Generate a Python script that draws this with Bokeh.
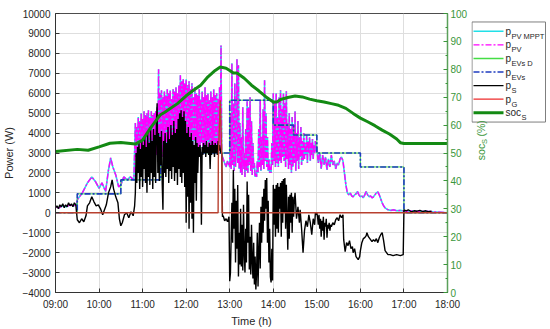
import math
from bokeh.plotting import figure
from bokeh.layouts import row
from bokeh.models import Range1d, LinearAxis, FixedTicker
from bokeh.core.properties import value
from bokeh.embed import file_html
from bokeh.resources import INLINE

FONT = "Liberation Sans"

# ---------------- axis ticks ----------------
x_tick_hours = [9, 10, 11, 12, 13, 14, 15, 16, 17, 18]
x_tick_labels = ["09:00", "10:00", "11:00", "12:00", "13:00", "14:00",
                 "15:00", "16:00", "17:00", "18:00"]
power_ticks = [-4000, -3000, -2000, -1000, 0, 1000, 2000, 3000, 4000,
               5000, 6000, 7000, 8000, 9000, 10000]
soc_ticks = [0, 10, 20, 30, 40, 50, 60, 70, 80, 90, 100]
soc_minor = [5, 15, 25, 35, 45, 55, 65, 75, 85, 95]

# ---------------- data (time in minutes after 09:00) ----------------
# p_S (battery power, W)
ps_min = [0, 2, 4, 6, 8, 10, 12, 14, 16, 18, 20, 22, 24, 26, 28, 30, 33, 36, 39, 42,
          44, 47, 50, 53, 56, 59, 62, 65, 67, 70, 73, 76, 78, 80, 83, 86, 88, 90, 92, 95,
          98, 101, 104, 107, 109,
          110, 111, 112, 113, 114, 115, 116, 117, 118, 119, 120, 121, 122, 123, 124, 125,
          126, 127, 128, 129, 130, 131, 132, 133, 134, 135, 136, 137, 138, 139, 140, 141,
          142, 143, 144, 145, 146, 147, 148, 149, 150, 151, 152, 153, 154, 155, 156, 157,
          158, 159, 160, 161, 162, 163, 164, 165, 166, 167, 168, 169, 170, 171, 172, 173,
          174, 175, 176, 177, 178, 179, 180, 181, 182, 183, 184, 185, 186, 187, 188, 189,
          190, 191, 192, 193, 194, 195, 196, 197, 198, 199, 200, 201, 202, 203, 204, 205,
          206, 207, 208, 209, 210, 211, 212, 213, 214, 215, 216, 217, 218, 219, 220, 221,
          222, 223, 224, 225, 226, 227, 228, 229, 230, 231, 233, 235, 237, 239,
          240, 241, 242, 243, 244, 245, 246, 247, 248, 249, 250, 251, 252, 253, 254, 255,
          256, 257, 258, 259, 260, 261, 262, 263, 264, 265, 266, 267, 268, 269, 270, 271,
          272, 273, 274, 275, 276, 277, 278, 279, 280, 281, 282, 283, 284, 285, 286, 287,
          288, 289, 290, 291, 292, 293, 294, 295, 296, 297, 298, 299, 300, 301, 302, 303,
          304, 305, 306, 307, 308, 309, 310, 311, 312, 313, 314, 315, 316, 317, 318, 319,
          320, 321, 322, 323, 324, 325, 326, 327, 328, 329, 330, 332, 334, 336, 337, 339,
          341, 343, 345, 347, 349, 351, 353, 355, 357, 358, 359, 360,
          361, 362, 363, 364, 365, 366, 367, 368, 369, 370, 371, 372, 373, 374, 375, 376,
          377, 378, 379, 380, 382, 384, 386, 388, 390, 392, 394, 396, 397, 399, 401, 403,
          405, 407, 409, 410, 412, 414, 416, 417, 419, 420, 422, 424, 426, 428, 429, 431,
          433, 436, 438, 440, 442, 444, 446, 448, 450, 452, 454, 456, 458, 461, 465, 470,
          475, 479, 480, 483, 486, 490, 494, 498, 502, 506, 510, 514, 518]
ps_w = [250, 350, 200, 400, 300, 450, 250, 400, 300, 500, 350, 450, 300, 500, 400, -350, -500, -300, -450, -150,
        350, 500, 800, 550, 350, 400, 200, -100, 100, 400, 1000, 1300, 1650, 1200, 800, 500, -300, -650, -500, -100,
        0, -250, 50, -150, 350,
        1000, 3000, 1500, 3300, 2000, 3500, 1200, 3200, 1800, 3600, 1300, 3400, 2200, 3800, 1500, 3300,
        1000, 4000, 1800, 3500, 1400, 4300, 2000, 3600, 1200, 4200, 1800, 3900, 1500, 4500, 5500, 2000,
        4000, 1600, 3800, 2400, 4100, 1500, 150, 3600, 2000, 4000, 1800, 3500, 2200, 4300, 1500, 3700,
        2100, 4400, 1700, 3900, 2300, 4600, 1600, 4000, 2000, 4200, 1400, 4700, 2200, 5000, 1800, 5150,
        1500, 4800, 2000, 5100, 1300, 4600, -500, 4000, 800, 4300, -800, 3800, 500, 4000, -300, 3600,
        -1000, 3400, 1500, 3800, 600, 3500, 2000, 3300, 2800, 3400, 2900, -600, 3300, 2900, 3500, 3000,
        3400, 2800, 3600, 3000, 3300, 2900, 3500, 2200, 3400, 2900, 3600, 3000, 3400, 2800, 3500, 3000,
        3400, 2900, 3600, 3100, 3400, 3200, 3000, 3000, -200, -150, -400, -300, -450, -200,
        -3430, -3000, -1200, 500, -1500, 2150, -800, 1200, -2500, 600, -1800, 1400, -3200, -1000, -2600, 200,
        -2700, -600, -2900, 400, -2000, -3000, -800, -2500, 1570, -1500, 900, -2850, -1200, -3100, -600, -2400,
        -3300, -1500, -3600, -2200, -3850, -3000, -1000, -3700, -2000, -500, -2800, 300, -1500, 800, -1000, 1200,
        -400, 1650, 200, 1750, -1500, 600, -2500, -800, -3200, -3500, -1800, -3400, 1400, -600, 1200, -1200,
        1400, -800, 1500, -1000, 1300, 200, 1500, -1200, 1600, -500, 1700, 0, 1750, -800, 1400, -300,
        -1850, 800, -1300, 900, -500, 1000, -1000, 800, -200, 600, 1000, -300, 300, -500, 150, -800,
        -2000, -900, -400, -700, -100, -500, -1100, -300, -600, 0, -100, 0,
        -200, -600, -100, -800, -300, -1200, -400, -900, -200, -1350, -500, -700, -300, -1250, -600, -800,
        -500, -900, -600, -700, -500, -600, -350, -250, -400, -100, -250, -100, -1350, -1950, -1500, -1650,
        -1400, -1800, -1700, -2000, -1800, -2200, -2300, -2350, -2200, -1900, -1500, -1300, -1250, -1150, -1000, -1200,
        -1300, -1450, -1350, -1430, -1300, -1500, -1250, -1100, -1000, -1400, -1900, -2000, -2100, -2100, -2150, -2100,
        -2150, -2100, 150, 100, 150, 50, 100, 80, 120, 60, 100, 50, 80]

# p_PV (PV power, W)
pv_min = [0, 5, 10, 15, 20, 25, 29, 30, 37, 44, 50, 55, 60, 64, 69, 73, 76, 79, 83, 87,
          90, 94, 99, 103, 108,
          110, 111, 112, 113, 114, 115, 116, 117, 118, 119, 120, 121, 122, 123, 124, 125,
          126, 127, 128, 129, 130, 131, 132, 133, 134, 135, 136, 137, 138, 139, 140, 141,
          142, 143, 144, 145, 146, 147, 148, 149, 150, 151, 152, 153, 154, 155, 156, 157,
          158, 159, 160, 161, 162, 163, 164, 165, 166, 167, 168, 169, 170, 171, 172, 173,
          174, 175, 176, 177, 178, 179, 180, 181, 182, 183, 184, 185, 186, 187, 188, 189,
          190, 191, 192, 193, 194, 195, 196, 197, 198, 199, 200, 201, 202, 203, 204, 205,
          206, 207, 208, 209, 210, 211, 212, 213, 214, 215, 216, 217, 218, 219, 220, 221,
          222, 223, 224, 225, 226, 227, 228, 229, 230, 231, 233, 235, 237, 239,
          240, 241, 242, 243, 244, 245, 246, 247, 248, 249, 250, 251, 252, 253, 254, 255,
          256, 257, 258, 259, 260, 261, 262, 263, 264, 265, 266, 267, 268, 269, 270, 271,
          272, 273, 274, 275, 276, 277, 278, 279, 280, 281, 282, 283, 284, 285, 286, 287,
          288, 289, 290, 291, 292, 293, 294, 295, 296, 297, 298, 299, 300, 301, 302, 303,
          304, 305, 306, 307, 308, 309, 310, 311, 312, 313, 314, 315, 316, 317, 318, 319,
          320, 321, 322, 323, 324, 325, 326, 327, 328, 329, 330, 331, 332, 333, 334, 335,
          336, 337, 338, 339, 340, 341, 342, 343, 344, 345, 346, 347, 348, 349, 350, 351,
          352, 353, 354, 355, 356, 357, 358, 359, 360, 362, 364, 366, 368, 370, 372, 374,
          376, 378, 380, 382, 384, 386, 388, 390, 392, 394, 396, 398, 400, 402, 404, 406,
          408, 410, 412, 414, 416, 418, 420, 422, 424, 426, 428, 430, 432, 434, 436, 438,
          440, 442, 444, 446, 448, 450, 452, 454, 456, 458, 462, 466, 470, 475, 479, 485,
          490, 500, 510, 520, 530, 540]
pv_w = [300, 250, 350, 300, 400, 350, 400, 650, 1000, 1500, 1800, 1570, 1230, 1500, 1070, 2150, 2750, 2300, 1900, 1300,
        1400, 1800, 1650, 1800, 1650,
        4500, 2800, 4300, 3200, 4800, 2600, 4600, 3000, 5000, 2700, 4700, 3300, 5100, 2500, 4900, 3100,
        5000, 2800, 5150, 3400, 4800, 2700, 5100, 3000, 4900, 2600, 5000, 3300, 5100, 2900, 5300, 3500,
        7200, 3000, 6000, 3300, 6150, 2800, 5800, 3500, 6100, 3000, 5900, 3200, 6200, 2900, 6000, 3400,
        6150, 3100, 5700, 3600, 6200, 3000, 6100, 3400, 6300, 2900, 6000, 3500, 6400, 3200, 6900, 3400,
        6600, 3100, 6700, 3600, 6500, 3000, 6700, 3300, 6400, 3800, 6600, 3200, 6200, 3500, 6500, 3000,
        5800, 3600, 6300, 3100, 6000, 3400, 5900, 3300, 6200, 3000, 5700, 3500, 6100, 3200, 5800, 3300,
        6300, 3100, 5900, 3600, 6000, 3000, 5650, 3300, 6100, 3200, 5800, 3400, 6200, 3100, 5900, 3300,
        6000, 3200, 5700, 3500, 6300, 3000, 8400, 3000, 2800, 2700, 2500, 2300, 2600, 2400,
        2300, 5000, 2200, 7500, 2400, 5500, 2100, 6500, 2300, 3500, 7700, 2500, 7400, 2200, 4500, 2000,
        3800, 1900, 5300, 2200, 3000, 1800, 4200, 2100, 5600, 2000, 5300, 2400, 5800, 2100, 4600, 1900,
        3500, 2200, 2500, 1800, 2000, 1800, 2600, 2000, 4200, 2300, 5650, 2100, 3800, 2400, 5200, 2200,
        6650, 2600, 5000, 2300, 3800, 2100, 2700, 2000, 2300, 2000, 3500, 2400, 6000, 2600, 5500, 2300,
        6000, 2500, 4800, 2300, 5800, 2600, 6150, 2500, 5200, 2800, 6000, 2600, 5500, 2300, 6100, 2700,
        4500, 2200, 5000, 2400, 4200, 2000, 4800, 2300, 4400, 2500, 5100, 2100, 4000, 2600, 4600, 2200,
        3800, 2800, 4300, 2400, 3600, 2600, 4000, 2700, 3500, 2900, 3900, 2500, 3600, 3000, 3800, 2600,
        3500, 2900, 3700, 2700, 3400, 3000, 3600, 3100, 3300, 2500, 3000, 2200, 2900, 2400, 2800, 2150,
        2700, 2300, 2900, 2400, 2600, 2200, 2500, 2400, 2700, 2800, 2600, 2000, 1400, 1000, 900, 1000,
        850, 800, 900, 950, 1070, 900, 800, 850, 750, 900, 1070, 900, 800, 850, 750, 800,
        900, 1000, 1050, 900, 700, 500, 350, 250, 200, 150, 120, 150, 100, 120, 100, 80,
        100, 60, 80, 50, 30, 0]

# p_PV MPPT: lies under p_PV and is indistinguishable from it in the picture
pvmppt_min = list(pv_min)
pvmppt_w = list(pv_w)

# p_EVs and p_EVs D (EV charging power, W): step levels starting at each time
evs_min = [0, 30, 90, 145, 240, 300, 328, 360, 420, 480, 540]
evs_w = [0, 950, 1650, 3000, 5650, 4400, 3900, 3000, 2300, 0, 0]
evsd_w = [0, 950, 1650, 3000, 5650, 4400, 3900, 3000, 2300, 0, 0]

# p_G (grid power, W)
pg_min = [0, 224, 224.3, 227, 229.2, 229.5, 540]
pg_w = [0, 0, 2700, 5650, 2700, 0, 0]

# soc_S (battery state of charge, %)
soc_min = [0, 30, 45, 60, 75, 90, 110, 120, 131, 144, 150, 168, 180, 190, 200, 210, 220, 227,
           235, 240, 245, 250, 260, 270, 280, 290, 300, 305, 310, 320, 330, 340, 350, 360,
           370, 380, 390, 400, 410, 420, 430, 440, 450, 460, 470, 475, 480, 540]
soc_pct = [50.5, 51.3, 51.0, 52.2, 53.5, 53.8, 53.2, 54.6, 59.0, 63.6, 64.5, 67.7, 70.5, 72.5, 74.3, 77.3, 79.6, 80.8,
           80.4, 79.6, 78.7, 78.7, 76.8, 74.3, 72.3, 70.1, 68.3, 68.3, 69.2, 69.9, 70.4, 70.1, 69.3, 68.7,
           68.3, 67.7, 67.1, 66.0, 64.2, 62.5, 61.2, 59.8, 58.2, 56.8, 55.0, 53.7, 53.4, 53.4]

# legend texts
legend_main = ["p", "p", "p", "p", "p", "p", "soc"]
legend_sub = ["PV MPPT", "PV", "EVs D", "EVs", "S", "G", "S"]


def hours(mins):
    return [9 + m / 60.0 for m in mins]


# ---------------- styles ----------------
ST_MPPT = dict(line_color="#22e0e8", line_width=1.6)
ST_PV = dict(line_color="#ff00ff", line_width=1.4, line_dash="6 2 2 2")
ST_EVSD = dict(line_color="#44dd44", line_width=1.0)
ST_EVS = dict(line_color="#1f3cc0", line_width=1.6, line_dash="6 2 2 2")
ST_S = dict(line_color="black", line_width=1.4)
ST_G = dict(line_color="#b8402f", line_width=1.4)
ST_SOC = dict(line_color="#138a13", line_width=3)
GREEN_TXT = "#3a963a"
DARK_TXT = "#262626"

# ---------------- main figure ----------------
p = figure(width=471, height=329, output_backend="svg", toolbar_location=None,
           x_range=Range1d(9, 18), y_range=Range1d(-4000, 10000),
           min_border_left=55, min_border_right=24, min_border_top=13, min_border_bottom=36)
p.extra_y_ranges = {"soc": Range1d(0, 100)}
p.background_fill_color = "white"
p.border_fill_color = "white"
p.outline_line_color = "#4d4d4d"
p.outline_line_width = 1

p.xaxis.ticker = FixedTicker(ticks=x_tick_hours)
p.xaxis.major_label_overrides = {h: lab for h, lab in zip(x_tick_hours, x_tick_labels)}
p.yaxis.ticker = FixedTicker(ticks=power_ticks)
p.xaxis.axis_label = "Time (h)"
p.yaxis.axis_label = "Power (W)"
for ax in (p.xaxis[0], p.yaxis[0]):
    ax.major_tick_in = 4
    ax.major_tick_out = 0
    ax.minor_tick_in = 0
    ax.minor_tick_out = 0
    ax.axis_line_color = "#333333"
    ax.major_tick_line_color = "#333333"
    ax.major_label_text_font = FONT
    ax.major_label_text_font_size = "10px"
    ax.major_label_text_color = DARK_TXT
    ax.axis_label_text_font = FONT
    ax.axis_label_text_font_size = "11px"
    ax.axis_label_text_font_style = "normal"
    ax.axis_label_text_color = DARK_TXT
p.yaxis.major_label_standoff = 5
p.yaxis.axis_label_standoff = 4
p.xaxis.major_label_standoff = 6
p.xaxis.axis_label_standoff = 2

p.xgrid.ticker = FixedTicker(ticks=x_tick_hours)
p.ygrid.ticker = FixedTicker(ticks=power_ticks)
p.grid.grid_line_color = "#dedede"
p.grid.grid_line_width = 1

raxis = LinearAxis(y_range_name="soc", ticker=FixedTicker(ticks=soc_ticks, minor_ticks=soc_minor))
raxis.major_tick_in = 4
raxis.major_tick_out = 0
raxis.minor_tick_in = 2
raxis.minor_tick_out = 0
raxis.axis_line_color = "#5aa05a"
raxis.axis_line_width = 1.5
raxis.major_tick_line_color = GREEN_TXT
raxis.minor_tick_line_color = GREEN_TXT
raxis.major_label_text_font = FONT
raxis.major_label_text_font_size = "10px"
raxis.major_label_text_color = GREEN_TXT
raxis.major_label_standoff = 3
p.add_layout(raxis, "right")

p.line(hours(pvmppt_min), pvmppt_w, **ST_MPPT)
p.line(hours(pv_min), pv_w, **ST_PV)
p.step(hours(evs_min), evsd_w, mode="after", **ST_EVSD)
p.step(hours(evs_min), evs_w, mode="after", **ST_EVS)
p.line(hours(ps_min), ps_w, **ST_S)
p.line(hours(pg_min), pg_w, **ST_G)
p.line(hours(soc_min), soc_pct, y_range_name="soc", **ST_SOC)

# ---------------- side panel: legend and right-axis title ----------------
# coordinates here are pixels of the side panel (x to the right, y upwards)
side = figure(width=79, height=329, output_backend="svg", toolbar_location=None,
              x_range=Range1d(0, 79), y_range=Range1d(0, 329),
              x_axis_location=None, y_axis_location=None,
              min_border_left=0, min_border_right=0, min_border_top=0, min_border_bottom=0)
side.outline_line_color = None
side.background_fill_color = "white"
side.border_fill_color = "white"
side.grid.visible = False

box_l, box_r, box_t, box_b = 0.5, 74, 319, 201
side.quad(left=[box_l], right=[box_r], top=[box_t], bottom=[box_b],
          fill_color="white", line_color="#7f7f7f", line_width=1)

styles = [ST_MPPT, ST_PV, ST_EVSD, ST_EVS, ST_S, ST_G, ST_SOC]
main_w = [5.6, 5.6, 5.6, 5.6, 5.6, 5.6, 15.6]
for i, st in enumerate(styles):
    cy = 308 - 16 * i
    lst = dict(st)
    if st is ST_EVSD:
        lst["line_width"] = 1.6
    if st is ST_G:
        lst["line_color"] = "#ee2b2b"
    side.segment(x0=[2], y0=[cy], x1=[32], y1=[cy], **lst)
    side.text(x=[34], y=[cy], text=[legend_main[i]], text_font=value(FONT),
              text_font_size="10px", text_color=DARK_TXT,
              text_baseline="middle", text_align="left")
    side.text(x=[34 + main_w[i] + 0.3], y=[cy - 6], text=[legend_sub[i]], text_font=value(FONT),
              text_font_size="7.5px", text_color=DARK_TXT,
              text_baseline="alphabetic", text_align="left")

# right axis title: soc_S (%) rotated
side.text(x=[9], y=[156], text=["soc"], angle=math.pi / 2, text_font=value(FONT),
          text_font_size="10.5px", text_color=GREEN_TXT, text_baseline="middle", text_align="left")
side.text(x=[13], y=[175], text=["S"], angle=math.pi / 2, text_font=value(FONT),
          text_font_size="7.5px", text_color=GREEN_TXT, text_baseline="middle", text_align="left")
side.text(x=[9], y=[184], text=["(%)"], angle=math.pi / 2, text_font=value(FONT),
          text_font_size="10.5px", text_color=GREEN_TXT, text_baseline="middle", text_align="left")

layout = row(p, side)
open("out.html", "w").write(file_html(layout, INLINE))
